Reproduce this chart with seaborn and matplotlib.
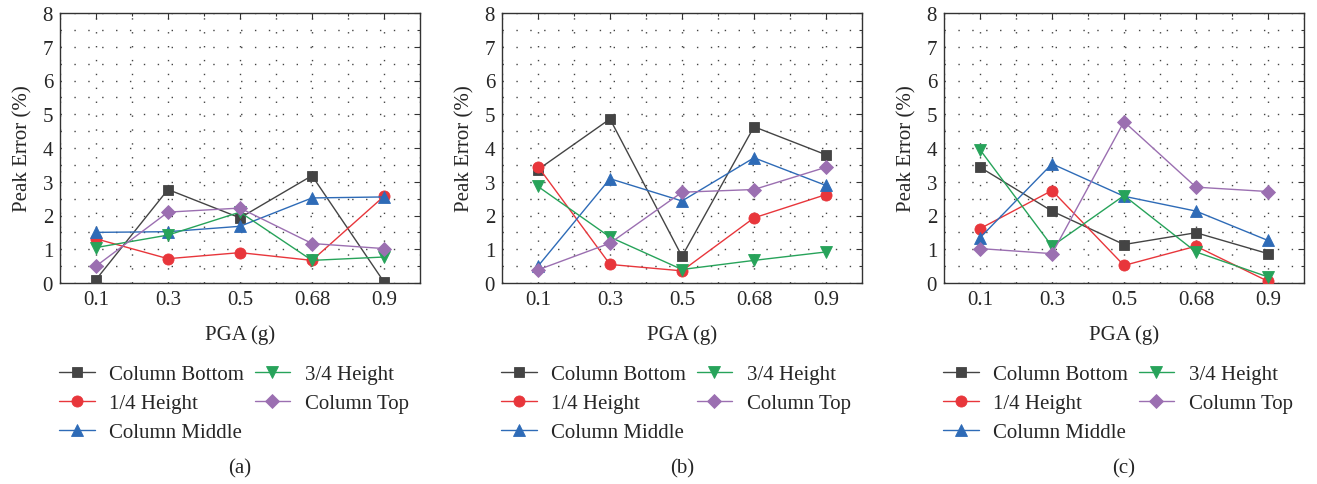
import numpy as np
import pandas as pd
import matplotlib
matplotlib.use("Agg")
import matplotlib.pyplot as plt
from matplotlib.ticker import MultipleLocator
import seaborn as sns

# PGA levels (g) and the monitored sections of the column
pga_labels = ["0.1", "0.3", "0.5", "0.68", "0.9"]
series_names = ["Column Bottom", "1/4 Height", "Column Middle", "3/4 Height", "Column Top"]

# Peak error (%) per section, case (a)
a_bottom = [0.10, 2.77, 1.93, 3.18, 0.03]
a_quarter = [1.31, 0.72, 0.90, 0.67, 2.57]
a_middle = [1.50, 1.52, 1.68, 2.52, 2.55]
a_three_quarter = [1.05, 1.42, 2.10, 0.67, 0.77]
a_top = [0.50, 2.10, 2.22, 1.17, 1.02]

# case (b)
b_bottom = [3.36, 4.86, 0.79, 4.63, 3.80]
b_quarter = [3.45, 0.55, 0.36, 1.93, 2.62]
b_middle = [0.50, 3.09, 2.43, 3.71, 2.89]
b_three_quarter = [2.86, 1.36, 0.40, 0.67, 0.92]
b_top = [0.39, 1.18, 2.69, 2.77, 3.43]

# case (c)
c_bottom = [3.43, 2.13, 1.14, 1.49, 0.87]
c_quarter = [1.61, 2.74, 0.52, 1.09, 0.05]
c_middle = [1.34, 3.53, 2.57, 2.13, 1.26]
c_three_quarter = [3.95, 1.09, 2.59, 0.92, 0.18]
c_top = [1.02, 0.87, 4.78, 2.84, 2.71]

panels = [
    ("(a)", [a_bottom, a_quarter, a_middle, a_three_quarter, a_top]),
    ("(b)", [b_bottom, b_quarter, b_middle, b_three_quarter, b_top]),
    ("(c)", [c_bottom, c_quarter, c_middle, c_three_quarter, c_top]),
]

colors = ["#444444", "#e8363b", "#2e6bb7", "#27a35a", "#9b6fb1"]
markers = ["s", "o", "^", "v", "D"]
marker_sizes = [7.5, 8, 8, 8, 7]

sns.set_theme(style="white")
plt.rcParams["font.family"] = ["Liberation Serif", "DejaVu Serif"]

FS = 15

fig = plt.figure(figsize=(13.17, 4.85), dpi=100)
W, H = 1317, 485
lefts = [60, 502, 944]
ax_w = 360
ax_top, ax_bottom = 14, 284

for (tag, values), left in zip(panels, lefts):
    ax = fig.add_axes([left / W, (H - ax_bottom) / H, ax_w / W, (ax_bottom - ax_top) / H])
    pos = np.arange(len(pga_labels))
    rows = []
    for name, vals in zip(series_names, values):
        for p, v in zip(pos, vals):
            rows.append({"pos": p, "val": v, "series": name})
    df = pd.DataFrame(rows)

    for i, name in enumerate(series_names):
        sub = df[df["series"] == name]
        sns.lineplot(data=sub, x="pos", y="val", ax=ax, color=colors[i],
                     marker=markers[i], markersize=marker_sizes[i],
                     markeredgecolor=colors[i], markeredgewidth=0.6,
                     linewidth=1.0, label=name, zorder=3 + i)

    ax.set_xlim(-0.5, 4.5)
    ax.set_ylim(0, 8)
    ax.set_xticks(pos)
    ax.set_xticklabels(pga_labels)
    ax.xaxis.set_minor_locator(MultipleLocator(0.5))
    ax.yaxis.set_major_locator(MultipleLocator(1))
    ax.yaxis.set_minor_locator(MultipleLocator(0.5))
    ax.grid(True, which="both", color="#444444", linestyle=(0, (1, 9)), linewidth=1.0)
    ax.tick_params(which="both", direction="in", top=True, right=True,
                   color="#333333", width=0.8)
    ax.tick_params(which="major", length=4, labelsize=FS, pad=5)
    ax.tick_params(which="minor", length=2.5)
    for s in ax.spines.values():
        s.set_color("#333333")
        s.set_linewidth(1.0)

    ax.set_xlabel("PGA (g)", fontsize=FS, labelpad=11)
    ax.set_ylabel("Peak Error (%)", fontsize=FS, labelpad=7)

    handles, labels = ax.get_legend_handles_labels()
    ax.legend(handles, labels, ncol=2, loc="upper left",
              bbox_to_anchor=(-0.025, -0.27), borderaxespad=0, frameon=False,
              fontsize=FS, handlelength=1.7, handletextpad=0.7,
              columnspacing=0.5, labelspacing=0.46)

    ax.text(0.5, -0.686, tag, transform=ax.transAxes, ha="center", va="center",
            fontsize=FS)

fig.savefig("out.png", dpi=100)
